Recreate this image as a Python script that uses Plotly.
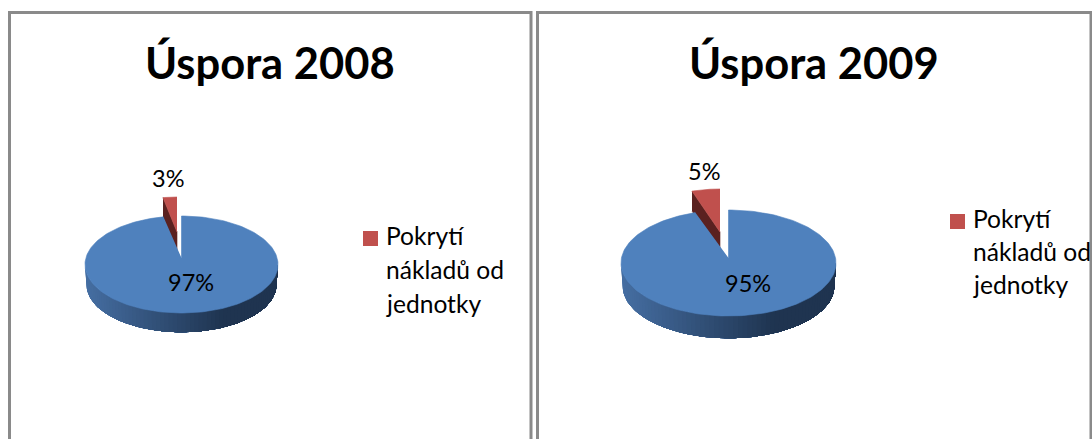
import numpy as np
import plotly.graph_objects as go

# ---------- data ----------
titles = ["Úspora 2008", "Úspora 2009"]
blue_values = [97, 95]
red_values = [3, 5]
value_labels_blue = ["97%", "95%"]
value_labels_red = ["3%", "5%"]
legend_lines = ["Pokrytí", "nákladů od", "jednotky"]

# ---------- layout geometry (figure pixels) ----------
W, H = 1092, 439
FONT = "Lato"
BLUE, RED = "#4F81BD", "#C0504D"
panels = [dict(x0=9.5, x1=531, title_x=270, cx=181.5, cy=264.5, rx=96.5, ry=48.5, depth=20, apex_y=258,
               red_ax=177, red_ay=232, red_rx=74.7, red_ry=35, red_depth=20,
               lab_blue=(191, 282), lab_red=(168, 178), leg_x=363, leg_y=238.5, leg_dy=(235, 269, 303)),
          dict(x0=537.5, x1=1091, title_x=814, cx=728.5, cy=263, rx=107.5, ry=53, depth=23, apex_y=258,
               red_ax=720, red_ay=232, red_rx=90.6, red_ry=43, red_depth=20,
               lab_blue=(748, 283), lab_red=(704, 171), leg_x=950, leg_y=221.5, leg_dy=(218, 251, 284))]

fig = go.Figure()


def poly(xs, ys, color, lw=0.6):
    fig.add_trace(go.Scatter(x=list(xs), y=list(ys), mode="lines", fill="toself", fillcolor=color,
                             line=dict(color=color, width=lw), hoverinfo="skip", showlegend=False))


def side_color(t):
    # t: 0 at the left of the pie, 1 at the right
    a = np.array([0x46, 0x6F, 0xA3])
    b = np.array([0x1F, 0x34, 0x50])
    c = a + (b - a) * min(t / 0.72, 1)
    return "rgb(%d,%d,%d)" % tuple(c)


annotations, shapes = [], []
for i, p in enumerate(panels):
    total = blue_values[i] + red_values[i]
    frac = red_values[i] / total
    ang = 2 * np.pi * frac

    # exploded slice: side first, then its top
    th = np.linspace(-ang, 0, 20)
    lx = p["red_ax"] + p["red_rx"] * np.sin(-ang)
    ly = p["red_ay"] - p["red_ry"] * np.cos(ang)
    poly([lx, p["red_ax"], p["red_ax"], lx],
         [ly, p["red_ay"], p["red_ay"] + p["red_depth"], ly + p["red_depth"]], "#5A2120")
    poly(np.r_[p["red_ax"], p["red_ax"] + p["red_rx"] * np.sin(th)],
         np.r_[p["red_ay"], p["red_ay"] - p["red_ry"] * np.cos(th)], RED)

    # pie wall, front half: painted left to right, each layer reaching the right end so no seams show
    n = 70
    phi = np.linspace(3 * np.pi / 2, np.pi / 2, n + 1)
    for k in range(n):
        seg = phi[k:]
        x_top = p["cx"] + p["rx"] * np.sin(seg)
        y_top = p["cy"] - p["ry"] * np.cos(seg)
        x_bot = p["cx"] + 0.985 * p["rx"] * np.sin(seg[::-1])
        y_bot = p["cy"] + p["depth"] - 0.985 * p["ry"] * np.cos(seg[::-1])
        t = (np.sin((phi[k] + phi[k + 1]) / 2) + 1) / 2
        poly(np.r_[x_top, x_bot], np.r_[y_top, y_bot], side_color(t), lw=0)

    # pie top
    th = np.linspace(0, 2 * np.pi - ang, 200)
    poly(np.r_[p["cx"], p["cx"] + p["rx"] * np.sin(th)],
         np.r_[p["apex_y"], p["cy"] - p["ry"] * np.cos(th)], BLUE)

    # frame
    shapes.append(dict(type="rect", xref="x", yref="y", x0=p["x0"], x1=p["x1"], y0=12.5, y1=460,
                       line=dict(color="#8A8A8A", width=3), fillcolor="rgba(0,0,0,0)", layer="above"))

    # texts
    annotations.append(dict(x=p["title_x"], y=62, text="<b>%s</b>" % titles[i], font=dict(size=43.5)))
    annotations.append(dict(x=p["lab_blue"][0], y=p["lab_blue"][1], text=value_labels_blue[i], font=dict(size=23.5)))
    annotations.append(dict(x=p["lab_red"][0], y=p["lab_red"][1], text=value_labels_red[i], font=dict(size=23.5)))
    for line, y in zip(legend_lines, p["leg_dy"]):
        annotations.append(dict(x=p["leg_x"] + 21, y=y, text=line, xanchor="left", font=dict(size=24.6)))

    # legend key
    fig.add_trace(go.Scatter(x=[p["leg_x"] + 7.5], y=[p["leg_y"]], mode="markers", hoverinfo="skip", showlegend=False,
                             marker=dict(symbol="square", size=15, color=RED, line=dict(width=0))))

for a in annotations:
    a.update(xref="x", yref="y", showarrow=False)
    a.setdefault("xanchor", "center")
    a["yanchor"] = "middle"
    a["font"].update(family=FONT, color="#000000")

fig.update_layout(width=W, height=H, autosize=False, margin=dict(l=0, r=0, t=0, b=0),
                  paper_bgcolor="white", plot_bgcolor="white", showlegend=False,
                  annotations=annotations, shapes=shapes,
                  xaxis=dict(range=[0, W], visible=False, fixedrange=True),
                  yaxis=dict(range=[H, 0], visible=False, fixedrange=True))
fig.write_html("out.html", config=dict(displayModeBar=False),
               default_width="%dpx" % W, default_height="%dpx" % H,
               post_script="document.body.style.margin='0';document.body.style.overflow='hidden';")
